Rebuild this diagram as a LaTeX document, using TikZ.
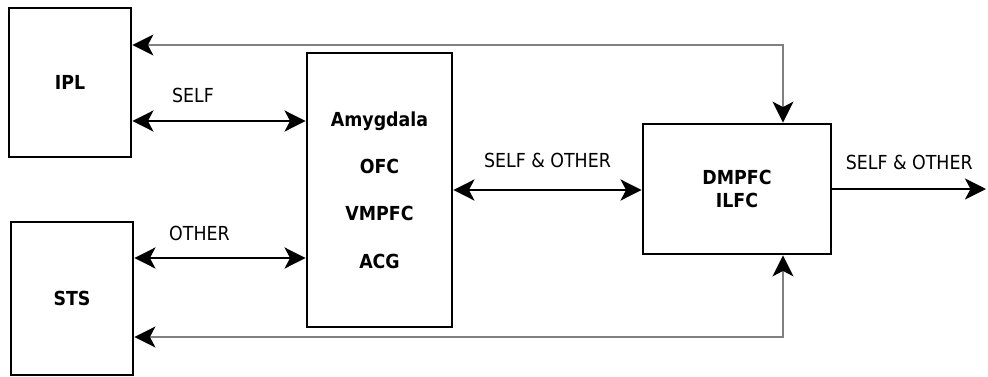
\documentclass[tikz,border=0pt]{standalone}
\usepackage{fontspec}
\setmainfont{DejaVu Sans Condensed}
\usetikzlibrary{arrows.meta, positioning}
\definecolor{linkgray}{RGB}{128,128,128}

\begin{document}
\begin{tikzpicture}[
  font=\fontsize{11}{13}\selectfont,
  >={Stealth[length=0.42cm, width=0.42cm, inset=0.11cm, color=black]},
  box/.style={draw, rectangle, line width=1.6pt, align=center, font=\fontsize{11}{13}\selectfont\bfseries},
  arrow/.style={->, line width=1.6pt},
  twoway/.style={<->, line width=1.6pt},
  feedback/.style={<->, draw=linkgray, line width=1.2pt}
]
\useasboundingbox (0,0) rectangle (19.76,7.52);

% Column 1: IPL and STS
\node[box, minimum width=2.44cm, minimum height=2.98cm] (IPL) at (1.40,5.87) {IPL};
\node[box, minimum width=2.44cm, minimum height=3.06cm] (STS) at (1.44,1.55) {STS};

% Column 2: limbic areas
\node[box, minimum width=2.90cm, minimum height=5.48cm] (limbic) at (7.59,3.72) {Amygdala\\[14pt]OFC\\[14pt]VMPFC\\[14pt]ACG};

% Column 3: DMPFC
\node[box, minimum width=3.76cm, minimum height=2.60cm] (DMPFC) at (14.74,3.74) {DMPFC\\ILFC};
\coordinate (out) at (19.72,3.74);

% Arrows between columns
\draw[twoway] ([yshift=-.77cm]IPL.east) -- node[pos=.35, yshift=.52cm] {SELF} ([yshift=-.77cm]IPL.east -| limbic.west);
\draw[twoway] ([yshift=.81cm]STS.east) -- node[pos=.38, yshift=.5cm] {OTHER} ([yshift=.81cm]STS.east -| limbic.west);
\draw[twoway] (limbic.east) -- node[yshift=.6cm] {SELF \& OTHER} (limbic.east -| DMPFC.west);
\draw[arrow] (DMPFC.east) -- node[yshift=.54cm] {SELF \& OTHER} (out);

% Feedback from DMPFC
\draw[feedback] ([yshift=.75cm]IPL.east) -| ([xshift=.92cm]DMPFC.north);
\draw[feedback] ([yshift=-.77cm]STS.east) -| ([xshift=.92cm]DMPFC.south);

\end{tikzpicture}
\end{document}
